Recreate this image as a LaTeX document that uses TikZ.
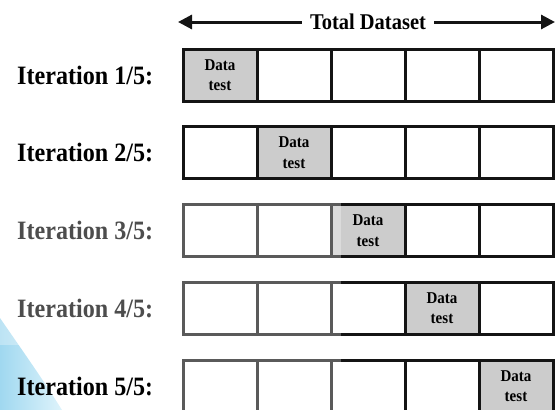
\documentclass[tikz,border=0pt]{standalone}
\usepackage{fontspec}
\setmainfont{Liberation Serif}
\newfontfamily\tallfont[FakeStretch=0.91]{Liberation Serif}
\usepackage{tikz}
\usetikzlibrary{arrows.meta,positioning}
\definecolor{ink}{RGB}{20,20,20}
\definecolor{testgray}{RGB}{204,204,204}
\definecolor{swooshA}{RGB}{160,216,240}
\definecolor{swooshB}{RGB}{222,243,251}
\tikzset{
  cell/.style={draw=ink,line width=3pt,minimum width=74pt,minimum height=52pt,
    inner sep=0pt,fill=white},
  testcell/.style={cell,fill=testgray,align=center,font=\tallfont\bfseries\fontsize{16.5}{20.5}\selectfont},
  lbl/.style={anchor=west,inner sep=0pt,font=\tallfont\bfseries\fontsize{26.5}{26.5}\selectfont},
  arr/.style={-{Triangle[length=14pt,width=14pt]},line width=3pt,ink},
}

\begin{document}
\begin{tikzpicture}[x=1pt,y=-1pt]
  \useasboundingbox (0,0) rectangle (555,410);
  % light blue swoosh in the corner
  \shade[left color=swooshA,right color=swooshB]
    (0,318) .. controls (22,350) and (42,378) .. (62,410) -- (0,410) -- cycle;

  % total dataset arrow
  \node[font=\tallfont\bfseries\fontsize{22.5}{22.5}\selectfont,inner sep=8pt] (title) at (368,22) {Total Dataset};
  \coordinate (lend) at (178,22);
  \coordinate (rend) at (555,22);
  \draw[arr] (title.west) -- (lend);
  \draw[arr] (title.east) -- (rend);

  % the five folds
  \foreach \r in {1,...,5}{
    \pgfmathsetmacro{\yc}{75+77.75*(\r-1)}
    \node[lbl] (it\r) at (17,\yc) {Iteration \r/5:};
    \foreach \c in {1,...,5}{
      \ifnum\c=\r
        \node[testcell] (c\r-\c) at ({183+37+74*(\c-1)},\yc) {Data\\test};
      \else
        \node[cell] (c\r-\c) at ({183+37+74*(\c-1)},\yc) {};
      \fi
    }
  }

  % faded band over the middle rows
  \fill[white,opacity=.3] (0,190) rectangle (341,345);
  \fill[white,opacity=.3] (150,345) rectangle (341,410);
\end{tikzpicture}
\end{document}
